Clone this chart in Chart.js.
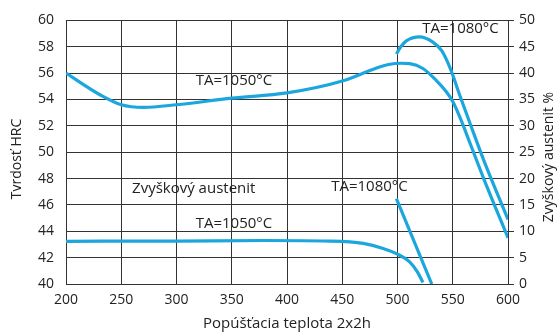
<!DOCTYPE html>
<html>
<head>
<meta charset="utf-8">
<script src="https://cdn.jsdelivr.net/npm/chart.js@4/dist/chart.umd.min.js"></script>
<style>
  html, body { margin: 0; padding: 0; background: #fff; }
  #wrap { width: 559px; height: 333px; }
</style>
</head>
<body>
<div id="wrap"><canvas id="graf"></canvas></div>
<script>
// tvrdost HRC (lava os)
const tvrdost1050X = [200, 232, 250, 270, 300, 350, 400, 450, 480, 492, 503, 511, 523, 535, 544, 550, 557, 566, 578, 600];
const tvrdost1050Y = [56, 54.3, 53.6, 53.4, 53.6, 54.1, 54.5, 55.4, 56.35, 56.65, 56.75, 56.72, 56.35, 55.45, 54.6, 53.85, 52.55, 50.6, 48.0, 43.5];
const tvrdost1080X = [499, 503, 508, 520, 532, 540, 548, 556, 566, 578, 600];
const tvrdost1080Y = [57.45, 58.0, 58.45, 58.75, 58.35, 57.7, 56.3, 54.4, 52.1, 49.4, 44.9];

// zvyskovy austenit % (prava os)
const austenit1050X = [200, 300, 380, 438, 469, 487, 500, 511, 518, 523];
const austenit1050Y = [8.1, 8.15, 8.25, 8.14, 7.7, 6.75, 5.67, 4.2, 2.3, 0.3];
const austenit1080X = [499, 531];
const austenit1080Y = [16.2, 0];

const xTicks = [200, 250, 300, 350, 400, 450, 500, 550, 600];

// popisky v grafe
const popisky = [
  { text: 'TA=1050°C', x: 352, y: 55.45 },
  { text: 'TA=1080°C', x: 557, y: 59.4 },
  { text: 'Zvyškový austenit', x: 315.6, y: 47.2 },
  { text: 'TA=1050°C', x: 352, y: 44.6 },
  { text: 'TA=1080°C', x: 474.6, y: 47.4 }
];

const farba = '#1ba7de';
const textFarba = '#222';
const font = '"Open Sans", "Noto Sans", sans-serif';

function body(xs, ys) {
  return xs.map((x, i) => ({ x: x, y: ys[i] }));
}

const popiskyPlugin = {
  id: 'popisky',
  afterDraw(chart) {
    const ctx = chart.ctx;
    const sx = chart.scales.x;
    const sy = chart.scales.y;
    ctx.save();
    ctx.fillStyle = textFarba;
    ctx.font = '15px ' + font;
    ctx.textAlign = 'center';
    ctx.textBaseline = 'middle';
    popisky.forEach(p => {
      ctx.fillText(p.text, sx.getPixelForValue(p.x), sy.getPixelForValue(p.y));
    });
    // nazvy osi
    ctx.font = '14px ' + font;
    ctx.translate(17, 159);
    ctx.rotate(-Math.PI / 2);
    ctx.fillText('Tvrdosť HRC', 0, 0);
    ctx.restore();
    ctx.save();
    ctx.fillStyle = textFarba;
    ctx.font = '14px ' + font;
    ctx.textAlign = 'center';
    ctx.textBaseline = 'middle';
    ctx.translate(549, 157);
    ctx.rotate(-Math.PI / 2);
    ctx.fillText('Zvyškový austenit %', 0, 0);
    ctx.restore();
  }
};

const ciara = {
  borderColor: farba,
  borderWidth: 3.2,
  pointRadius: 0,
  fill: false,
  cubicInterpolationMode: 'monotone'
};

new Chart(document.getElementById('graf'), {
  type: 'line',
  data: {
    datasets: [
      Object.assign({ label: 'HRC 1050', data: body(tvrdost1050X, tvrdost1050Y), yAxisID: 'y' }, ciara),
      Object.assign({ label: 'HRC 1080', data: body(tvrdost1080X, tvrdost1080Y), yAxisID: 'y' }, ciara),
      Object.assign({ label: 'Austenit 1050', data: body(austenit1050X, austenit1050Y), yAxisID: 'y2' }, ciara),
      Object.assign({ label: 'Austenit 1080', data: body(austenit1080X, austenit1080Y), yAxisID: 'y2', tension: 0 }, ciara)
    ]
  },
  options: {
    responsive: true,
    maintainAspectRatio: false,
    animation: false,
    layout: { padding: { top: 20, left: 0, right: 0, bottom: 0 } },
    plugins: {
      legend: { display: false },
      tooltip: { enabled: false }
    },
    scales: {
      x: {
        type: 'linear',
        min: 200,
        max: 600,
        afterBuildTicks: s => { s.ticks = xTicks.map(v => ({ value: v })); },
        grid: { color: '#333', lineWidth: 1, drawTicks: false },
        border: { color: '#333', width: 1 },
        ticks: { color: textFarba, font: { size: 14, family: font }, padding: 8, maxRotation: 0 },
        title: { display: true, text: 'Popúšťacia teplota 2x2h', color: textFarba, font: { size: 15, family: font }, padding: { top: 1, bottom: 0 } },
        afterFit: s => { s.height = 49; }
      },
      y: {
        position: 'left',
        min: 40,
        max: 60,
        ticks: { stepSize: 2, color: textFarba, font: { size: 14, family: font }, padding: 12 },
        grid: { color: '#333', lineWidth: 1, drawTicks: false },
        border: { color: '#333', width: 1 },
        afterFit: s => { s.width = 66; }
      },
      y2: {
        position: 'right',
        min: 0,
        max: 50,
        ticks: { stepSize: 5, color: textFarba, font: { size: 14, family: font }, padding: 5 },
        grid: { drawOnChartArea: false, drawTicks: true, tickLength: 6, color: '#333' },
        border: { color: '#333', width: 1 },
        afterFit: s => { s.width = 51; }
      }
    }
  },
  plugins: [popiskyPlugin]
});
</script>
</body>
</html>
